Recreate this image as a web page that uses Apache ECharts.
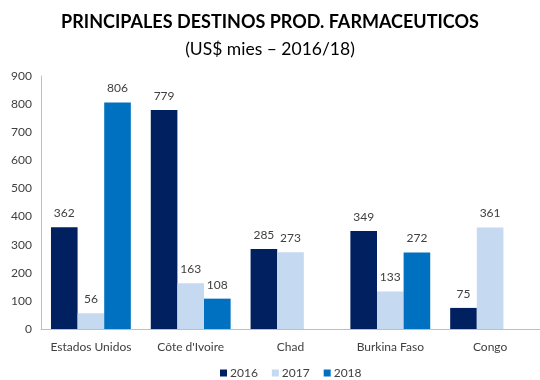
<!DOCTYPE html>
<html>
<head>
<meta charset="utf-8">
<script src="https://cdn.jsdelivr.net/npm/echarts@6/dist/echarts.min.js"></script>
<style>
  html, body { margin: 0; padding: 0; background: #fff; }
  #chart { width: 540px; height: 380px; }
</style>
</head>
<body>
<div id="chart"></div>
<script>
// Destination countries and yearly export values (US$ thousands)
const categories = ['Estados Unidos', "Côte d'Ivoire", 'Chad', 'Burkina Faso', 'Congo'];
const years = ['2016', '2017', '2018'];
const values2016 = [362, 779, 285, 349, 75];
const values2017 = [56, 163, 273, 133, 361];
const values2018 = [806, 108, null, 272, null];
const yTicks = [0, 100, 200, 300, 400, 500, 600, 700, 800, 900];

const colors = ['#002060', '#C5D9F1', '#0070C0'];
const font = 'Lato, "Open Sans", sans-serif';

const chart = echarts.init(document.getElementById('chart'));

function barSeries(name, data, color) {
  return {
    name: name,
    type: 'bar',
    data: data,
    barGap: '0%',
    barCategoryGap: '20%',
    itemStyle: { color: color },
    label: {
      show: true,
      position: 'top',
      distance: 8,
      color: '#404040',
      fontSize: 12,
      fontFamily: font
    }
  };
}

chart.setOption({
  animation: false,
  title: [
    {
      text: 'PRINCIPALES DESTINOS PROD. FARMACEUTICOS',
      left: 'center',
      top: 8,
      textStyle: { fontSize: 18, fontWeight: 'bold', color: '#000', fontFamily: font }
    },
    {
      text: '(US$ mies – 2016/18)',
      left: 'center',
      top: 35,
      textStyle: { fontSize: 17.5, fontWeight: 'normal', color: '#000', fontFamily: font }
    }
  ],
  legend: {
    data: years,
    top: 367,
    left: 220,
    padding: 0,
    itemWidth: 7,
    itemHeight: 7,
    itemGap: 14,
    icon: 'rect',
    textStyle: { color: '#404040', fontSize: 12, fontFamily: font, padding: [0, 0, 0, -2] }
  },
  grid: { left: 41, width: 504, top: 76, bottom: 51, containLabel: false },
  xAxis: {
    type: 'category',
    data: categories,
    axisLine: { lineStyle: { color: '#BFBFBF' } },
    axisTick: { show: false },
    axisLabel: { color: '#404040', fontSize: 12, fontFamily: font, margin: 12, interval: 0 }
  },
  yAxis: {
    type: 'value',
    min: yTicks[0],
    max: yTicks[yTicks.length - 1],
    interval: 100,
    splitLine: { show: false },
    axisLine: { show: true, lineStyle: { color: '#BFBFBF' } },
    axisTick: { show: false },
    axisLabel: { color: '#404040', fontSize: 12, fontFamily: font, margin: 9 }
  },
  series: [
    barSeries(years[0], values2016, colors[0]),
    barSeries(years[1], values2017, colors[1]),
    barSeries(years[2], values2018, colors[2])
  ]
});
</script>
</body>
</html>
